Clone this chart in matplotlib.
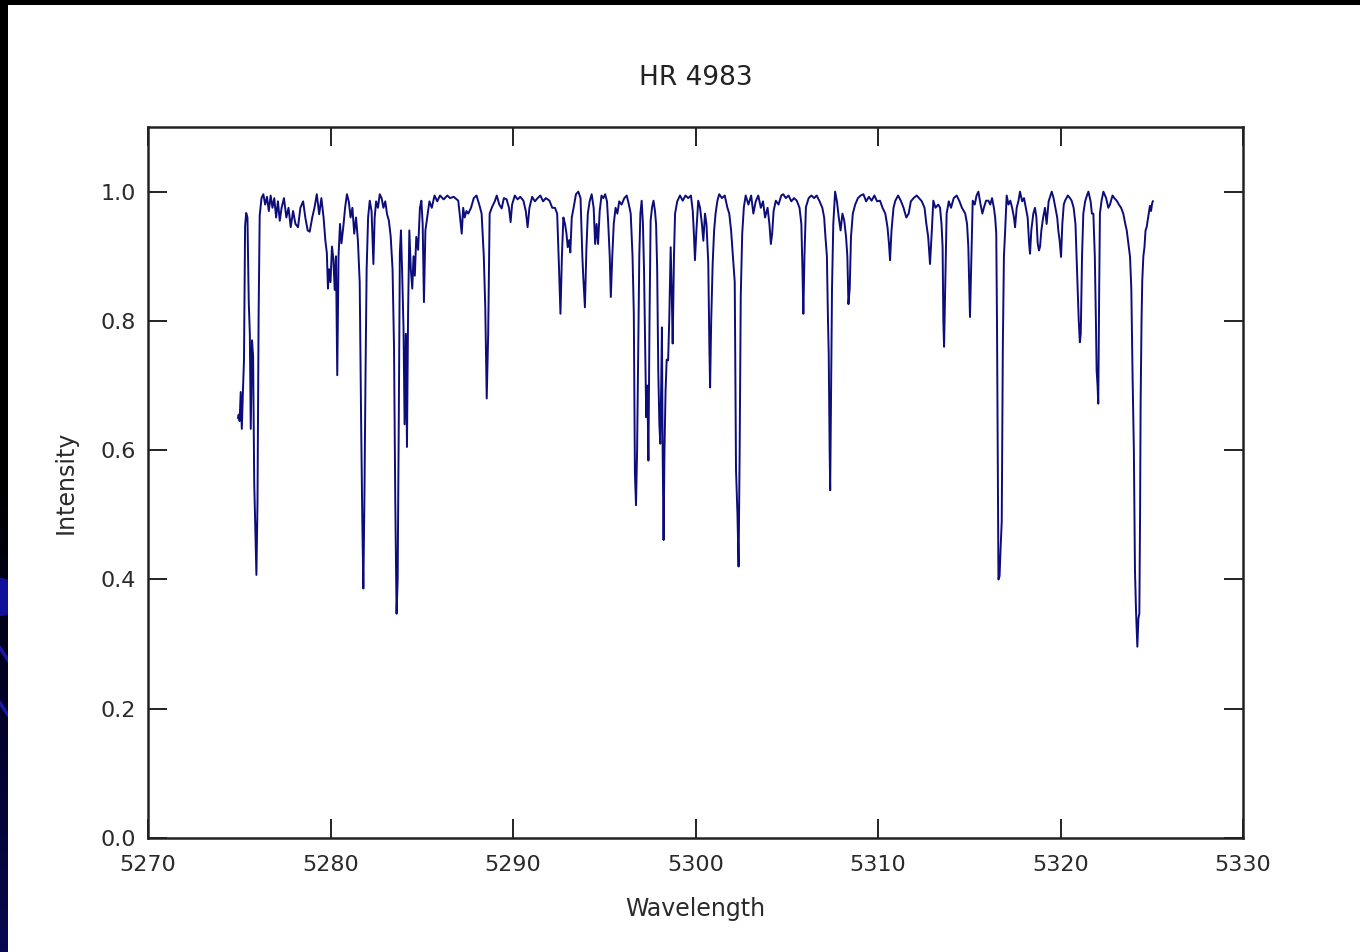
import numpy as np
import matplotlib.pyplot as plt
import matplotlib.patches as patches
from matplotlib.colors import LinearSegmentedColormap

# spectrum of HR 4983, wavelength (A) and normalised intensity
wave = [
    5274.93, 5274.97, 5275.02, 5275.08, 5275.14, 5275.20, 5275.26, 5275.32, 5275.38, 5275.45,
    5275.52, 5275.58, 5275.63, 5275.70, 5275.76, 5275.82, 5275.88, 5275.94, 5276.00, 5276.06,
    5276.12, 5276.22, 5276.32, 5276.42, 5276.52, 5276.62, 5276.72, 5276.82, 5276.92, 5277.02,
    5277.12, 5277.22, 5277.32, 5277.45, 5277.58, 5277.70, 5277.82, 5277.95, 5278.08, 5278.22,
    5278.35, 5278.50, 5278.62, 5278.75, 5278.86, 5279.00, 5279.12, 5279.25, 5279.38, 5279.50,
    5279.62, 5279.72, 5279.80, 5279.86, 5279.92, 5280.00, 5280.08, 5280.16, 5280.23, 5280.30,
    5280.37, 5280.44, 5280.52, 5280.60, 5280.70, 5280.80, 5280.90, 5281.00, 5281.10, 5281.20,
    5281.30, 5281.40, 5281.50, 5281.60, 5281.68, 5281.74, 5281.80, 5281.86, 5281.92, 5281.98,
    5282.06, 5282.15, 5282.25, 5282.35, 5282.42, 5282.50, 5282.60, 5282.70, 5282.80, 5282.90,
    5283.00, 5283.10, 5283.20, 5283.30, 5283.40, 5283.48, 5283.55, 5283.62, 5283.68, 5283.74,
    5283.80, 5283.86, 5283.93, 5284.00, 5284.06, 5284.13, 5284.19, 5284.25, 5284.32, 5284.40,
    5284.48, 5284.55, 5284.62, 5284.70, 5284.80, 5284.90, 5284.98, 5285.05, 5285.12, 5285.20,
    5285.30, 5285.42, 5285.55, 5285.70, 5285.85, 5286.00, 5286.20, 5286.40, 5286.55, 5286.75,
    5287.00, 5287.10, 5287.19, 5287.27, 5287.35, 5287.45, 5287.55, 5287.70, 5287.85, 5288.00,
    5288.15, 5288.28, 5288.40, 5288.48, 5288.56, 5288.64, 5288.72, 5288.85, 5289.00, 5289.11,
    5289.25, 5289.38, 5289.50, 5289.65, 5289.78, 5289.87, 5289.95, 5290.10, 5290.25, 5290.40,
    5290.57, 5290.70, 5290.80, 5290.90, 5291.05, 5291.20, 5291.35, 5291.50, 5291.65, 5291.80,
    5292.00, 5292.15, 5292.30, 5292.42, 5292.52, 5292.60, 5292.68, 5292.76, 5292.85, 5292.93,
    5293.00, 5293.08, 5293.14, 5293.22, 5293.32, 5293.45, 5293.58, 5293.70, 5293.80, 5293.85,
    5293.94, 5294.02, 5294.10, 5294.20, 5294.31, 5294.42, 5294.50, 5294.58, 5294.66, 5294.75,
    5294.85, 5294.95, 5295.05, 5295.15, 5295.22, 5295.30, 5295.36, 5295.44, 5295.52, 5295.62,
    5295.72, 5295.82, 5295.95, 5296.10, 5296.23, 5296.35, 5296.45, 5296.55, 5296.62, 5296.68,
    5296.74, 5296.80, 5296.86, 5296.92, 5296.98, 5297.05, 5297.12, 5297.18, 5297.24, 5297.30,
    5297.36, 5297.42, 5297.48, 5297.54, 5297.62, 5297.70, 5297.78, 5297.84, 5297.90, 5297.96,
    5298.02, 5298.07, 5298.12, 5298.16, 5298.20, 5298.25, 5298.30, 5298.36, 5298.42, 5298.50,
    5298.56, 5298.64, 5298.70, 5298.75, 5298.82, 5298.88, 5299.00, 5299.15, 5299.30, 5299.45,
    5299.60, 5299.75, 5299.85, 5299.92, 5299.97, 5300.05, 5300.15, 5300.25, 5300.35, 5300.43,
    5300.52, 5300.60, 5300.70, 5300.76, 5300.80, 5300.86, 5300.94, 5301.02, 5301.10, 5301.20,
    5301.30, 5301.45, 5301.60, 5301.75, 5301.85, 5301.95, 5302.05, 5302.15, 5302.22, 5302.30,
    5302.36, 5302.42, 5302.48, 5302.56, 5302.65, 5302.75, 5302.90, 5303.05, 5303.17, 5303.30,
    5303.44, 5303.58, 5303.70, 5303.81, 5303.95, 5304.05, 5304.13, 5304.20, 5304.28, 5304.40,
    5304.55, 5304.70, 5304.81, 5304.95, 5305.10, 5305.25, 5305.40, 5305.55, 5305.70, 5305.80,
    5305.86, 5305.91, 5305.97, 5306.05, 5306.20, 5306.35, 5306.50, 5306.64, 5306.80, 5306.95,
    5307.05, 5307.12, 5307.20, 5307.26, 5307.30, 5307.35, 5307.38, 5307.43, 5307.48, 5307.55,
    5307.65, 5307.75, 5307.85, 5307.95, 5308.05, 5308.15, 5308.25, 5308.32, 5308.38, 5308.45,
    5308.52, 5308.62, 5308.75, 5308.90, 5309.05, 5309.20, 5309.35, 5309.50, 5309.65, 5309.80,
    5309.95, 5310.11, 5310.25, 5310.40, 5310.52, 5310.60, 5310.66, 5310.74, 5310.85, 5310.95,
    5311.10, 5311.25, 5311.40, 5311.55, 5311.68, 5311.80, 5311.95, 5312.12, 5312.25, 5312.40,
    5312.55, 5312.65, 5312.75, 5312.85, 5312.95, 5313.03, 5313.15, 5313.30, 5313.40, 5313.48,
    5313.54, 5313.58, 5313.62, 5313.68, 5313.76, 5313.88, 5314.00, 5314.15, 5314.31, 5314.45,
    5314.60, 5314.70, 5314.78, 5314.88, 5314.95, 5315.00, 5315.04, 5315.10, 5315.19, 5315.30,
    5315.40, 5315.50, 5315.62, 5315.72, 5315.80, 5315.92, 5316.05, 5316.15, 5316.25, 5316.35,
    5316.42, 5316.48, 5316.52, 5316.55, 5316.60, 5316.66, 5316.72, 5316.78, 5316.84, 5316.90,
    5316.96, 5317.05, 5317.15, 5317.25, 5317.35, 5317.45, 5317.51, 5317.60, 5317.70, 5317.78,
    5317.90, 5318.00, 5318.10, 5318.20, 5318.28, 5318.33, 5318.40, 5318.51, 5318.60, 5318.68,
    5318.75, 5318.82, 5318.88, 5318.95, 5319.05, 5319.15, 5319.24, 5319.35, 5319.52, 5319.62,
    5319.72, 5319.82, 5319.88, 5319.95, 5320.03, 5320.10, 5320.18, 5320.25, 5320.40, 5320.52,
    5320.61, 5320.72, 5320.82, 5320.92, 5321.00, 5321.06, 5321.11, 5321.18, 5321.25, 5321.35,
    5321.45, 5321.53, 5321.65, 5321.72, 5321.80, 5321.88, 5321.94, 5321.98, 5322.03, 5322.07,
    5322.12, 5322.16, 5322.25, 5322.35, 5322.50, 5322.62, 5322.71, 5322.85, 5322.95, 5323.08,
    5323.20, 5323.32, 5323.44, 5323.55, 5323.63, 5323.72, 5323.81, 5323.88, 5323.95, 5324.02,
    5324.08, 5324.14, 5324.21, 5324.27, 5324.32, 5324.36, 5324.39, 5324.44, 5324.48, 5324.54,
    5324.60, 5324.66, 5324.72, 5324.80, 5324.90, 5324.96, 5325.02, 5325.06,
]

flux = [
    0.650, 0.655, 0.645, 0.690, 0.633, 0.690, 0.740, 0.947, 0.967, 0.960,
    0.830, 0.780, 0.633, 0.770, 0.745, 0.550, 0.476, 0.407, 0.520, 0.805,
    0.963, 0.990, 0.996, 0.980, 0.992, 0.970, 0.994, 0.975, 0.990, 0.960,
    0.985, 0.955, 0.975, 0.990, 0.960, 0.975, 0.945, 0.970, 0.950, 0.945,
    0.975, 0.985, 0.960, 0.940, 0.938, 0.960, 0.975, 0.996, 0.965, 0.990,
    0.960, 0.924, 0.905, 0.850, 0.880, 0.860, 0.915, 0.895, 0.848, 0.900,
    0.716, 0.900, 0.950, 0.920, 0.945, 0.975, 0.996, 0.985, 0.960, 0.975,
    0.935, 0.960, 0.925, 0.860, 0.640, 0.497, 0.386, 0.530, 0.720, 0.880,
    0.960, 0.986, 0.970, 0.888, 0.960, 0.985, 0.975, 0.996, 0.990, 0.975,
    0.985, 0.965, 0.955, 0.930, 0.880, 0.760, 0.520, 0.347, 0.400, 0.640,
    0.905, 0.940, 0.870, 0.790, 0.640, 0.780, 0.605, 0.810, 0.940, 0.880,
    0.850, 0.900, 0.870, 0.930, 0.910, 0.975, 0.986, 0.950, 0.829, 0.940,
    0.960, 0.985, 0.975, 0.994, 0.985, 0.994, 0.988, 0.994, 0.990, 0.992,
    0.986, 0.960, 0.935, 0.975, 0.960, 0.970, 0.966, 0.975, 0.990, 0.994,
    0.980, 0.966, 0.900, 0.821, 0.680, 0.780, 0.966, 0.976, 0.985, 0.994,
    0.980, 0.974, 0.990, 0.988, 0.975, 0.953, 0.980, 0.994, 0.988, 0.992,
    0.986, 0.970, 0.945, 0.975, 0.992, 0.985, 0.990, 0.994, 0.985, 0.990,
    0.986, 0.975, 0.975, 0.966, 0.883, 0.811, 0.900, 0.960, 0.950, 0.935,
    0.914, 0.925, 0.906, 0.960, 0.975, 0.996, 1.000, 0.990, 0.900, 0.868,
    0.821, 0.910, 0.966, 0.985, 0.996, 0.975, 0.919, 0.950, 0.919, 0.970,
    0.994, 0.990, 0.996, 0.985, 0.950, 0.900, 0.837, 0.900, 0.950, 0.975,
    0.966, 0.985, 0.980, 0.990, 0.994, 0.980, 0.966, 0.900, 0.811, 0.564,
    0.515, 0.600, 0.749, 0.900, 0.966, 0.986, 0.950, 0.878, 0.760, 0.651,
    0.700, 0.584, 0.800, 0.955, 0.976, 0.986, 0.970, 0.950, 0.880, 0.723,
    0.640, 0.610, 0.700, 0.790, 0.600, 0.461, 0.600, 0.692, 0.740, 0.739,
    0.800, 0.914, 0.840, 0.765, 0.900, 0.966, 0.985, 0.994, 0.986, 0.994,
    0.990, 0.994, 0.970, 0.930, 0.894, 0.940, 0.986, 0.975, 0.950, 0.924,
    0.966, 0.950, 0.890, 0.760, 0.697, 0.800, 0.888, 0.940, 0.966, 0.986,
    0.996, 0.990, 0.994, 0.975, 0.966, 0.940, 0.900, 0.860, 0.569, 0.500,
    0.420, 0.600, 0.839, 0.935, 0.976, 0.994, 0.980, 0.994, 0.966, 0.985,
    0.994, 0.975, 0.985, 0.960, 0.975, 0.950, 0.919, 0.935, 0.970, 0.986,
    0.980, 0.994, 0.996, 0.990, 0.994, 0.985, 0.990, 0.986, 0.975, 0.950,
    0.880, 0.811, 0.900, 0.976, 0.990, 0.994, 0.990, 0.994, 0.985, 0.975,
    0.960, 0.930, 0.900, 0.800, 0.749, 0.600, 0.538, 0.700, 0.850, 0.950,
    1.000, 0.985, 0.960, 0.940, 0.966, 0.955, 0.930, 0.900, 0.826, 0.850,
    0.930, 0.966, 0.980, 0.990, 0.994, 0.996, 0.985, 0.992, 0.986, 0.994,
    0.985, 0.986, 0.975, 0.966, 0.945, 0.920, 0.894, 0.940, 0.975, 0.986,
    0.994, 0.986, 0.975, 0.960, 0.966, 0.985, 0.990, 0.994, 0.990, 0.985,
    0.975, 0.950, 0.930, 0.888, 0.940, 0.986, 0.975, 0.980, 0.975, 0.950,
    0.914, 0.800, 0.760, 0.850, 0.966, 0.985, 0.975, 0.990, 0.994, 0.986,
    0.975, 0.970, 0.966, 0.950, 0.914, 0.850, 0.806, 0.880, 0.986, 0.980,
    0.994, 1.000, 0.980, 0.966, 0.975, 0.986, 0.986, 0.980, 0.990, 0.975,
    0.960, 0.935, 0.800, 0.646, 0.400, 0.405, 0.450, 0.490, 0.760, 0.900,
    0.935, 0.994, 0.980, 0.986, 0.975, 0.960, 0.945, 0.975, 0.986, 1.000,
    0.985, 0.990, 0.975, 0.960, 0.920, 0.904, 0.940, 0.966, 0.975, 0.960,
    0.920, 0.909, 0.915, 0.940, 0.960, 0.975, 0.950, 0.985, 1.000, 0.990,
    0.975, 0.960, 0.940, 0.925, 0.899, 0.950, 0.980, 0.986, 0.994, 0.990,
    0.986, 0.975, 0.950, 0.868, 0.800, 0.767, 0.780, 0.900, 0.966, 0.985,
    0.994, 1.000, 0.985, 0.966, 0.966, 0.900, 0.800, 0.723, 0.700, 0.672,
    0.850, 0.966, 0.986, 1.000, 0.990, 0.975, 0.980, 0.994, 0.990, 0.986,
    0.980, 0.975, 0.966, 0.950, 0.940, 0.920, 0.899, 0.850, 0.713, 0.600,
    0.414, 0.350, 0.296, 0.340, 0.347, 0.500, 0.672, 0.800, 0.862, 0.900,
    0.914, 0.940, 0.945, 0.960, 0.978, 0.970, 0.982, 0.985,
]

xticks = [5270, 5280, 5290, 5300, 5310, 5320, 5330]
yticks = [0.0, 0.2, 0.4, 0.6, 0.8, 1.0]

W, H = 1360, 952
fig = plt.figure(figsize=(W / 100, H / 100), dpi=100)
fig.patch.set_facecolor('white')

# slide edge: black band on top, dark strip down the left side
fig.patches.append(patches.Rectangle((0, 1 - 5 / H), 1, 5 / H, transform=fig.transFigure,
                                     facecolor='black', edgecolor='none', zorder=0))
strip = fig.add_axes([0, 0, 8 / W, 1 - 5 / H])
grad = np.linspace(0, 1, 200).reshape(-1, 1)
cmap = LinearSegmentedColormap.from_list('edge', ['#000000', '#000000', '#000000', '#02022a', '#08084e'])
strip.imshow(grad, aspect='auto', cmap=cmap, extent=[0, 8, H, 5])
strip.add_patch(patches.Circle((0, 597), 19, facecolor='#10109a', edgecolor='none'))
strip.plot([0, 8], [648, 660], color='#1818a8', lw=2.5)
strip.plot([0, 8], [703, 715], color='#1818a8', lw=2.5)
strip.set_xlim(0, 8)
strip.set_ylim(H, 5)
strip.axis('off')

ax = fig.add_axes([148 / W, 1 - 838 / H, (1243 - 148) / W, (838 - 127) / H])
ax.plot(wave, flux, color='#0c0c7a', lw=1.4)

ax.set_xlim(5270, 5330)
ax.set_ylim(0, 1.1)
ax.set_xticks(xticks)
ax.set_yticks(yticks)
ax.set_yticklabels(['%.1f' % v for v in yticks])

for sp in ax.spines.values():
    sp.set_linewidth(1.8)
    sp.set_color('#222222')
ax.tick_params(direction='in', length=14, width=1.4, color='#222222',
               top=True, right=True, labelsize=16, labelcolor='#2a2a2a')
ax.tick_params(axis='x', pad=12)
ax.tick_params(axis='y', pad=9)

ax.set_xlabel('Wavelength', fontsize=17, color='#2a2a2a', labelpad=16)
ax.set_ylabel('Intensity', fontsize=17, color='#2a2a2a', labelpad=16)
ax.set_title('HR 4983', fontsize=19, color='#222222', pad=30)

fig.savefig('out.png', dpi=100)
